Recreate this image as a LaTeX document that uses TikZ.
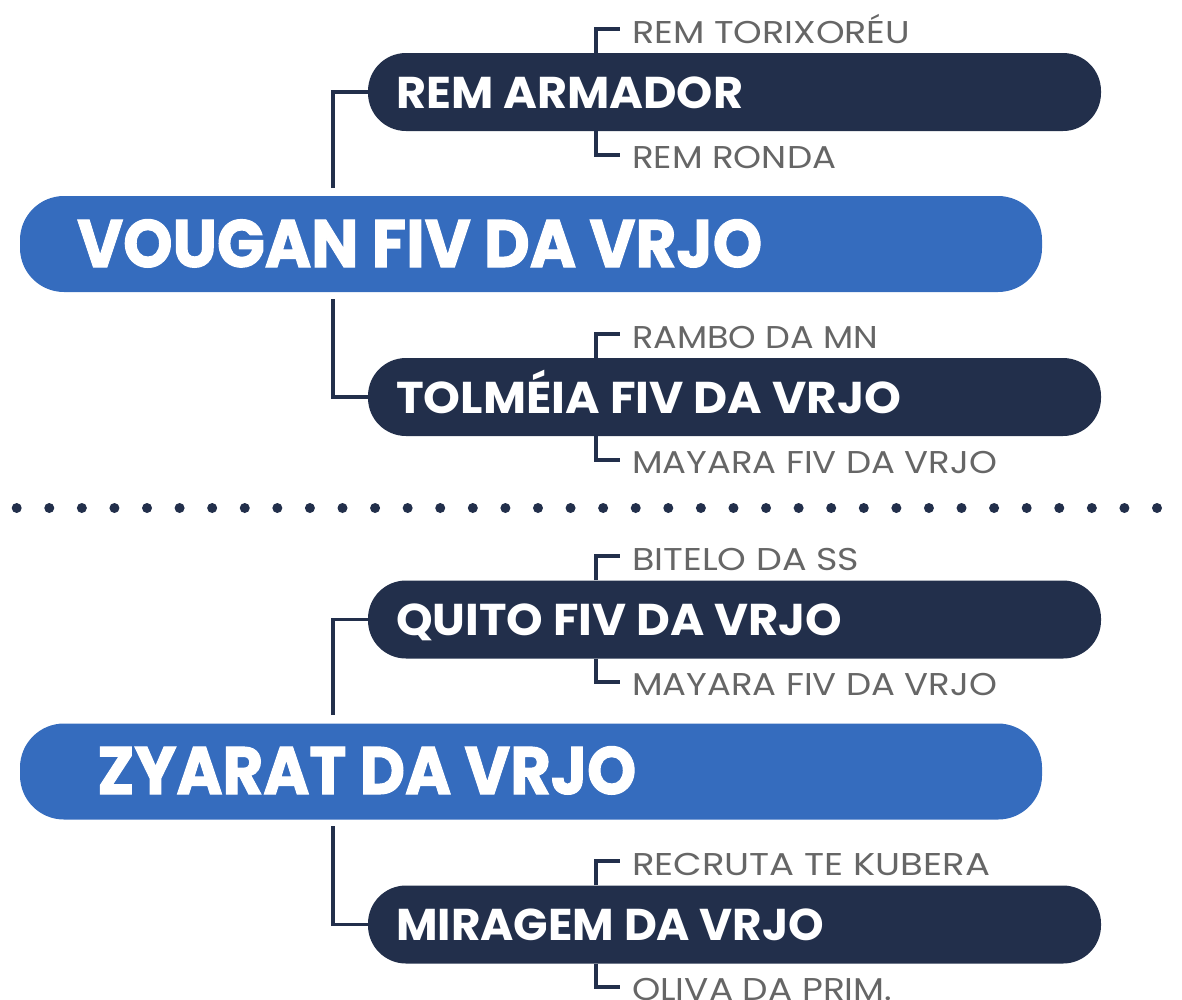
\documentclass[tikz,border=0pt]{standalone}
\usepackage{fontspec}
\setmainfont{Poppins}
\newfontfamily\heavyfont[BoldFeatures={FakeBold=1.6}]{Poppins}
\usepackage{graphicx}
\usetikzlibrary{calc}
\definecolor{navy}{RGB}{34,47,75}
\definecolor{mainblue}{RGB}{53,108,190}
\definecolor{txtgray}{RGB}{102,102,102}
\newcommand{\fitw}[2]{\resizebox{#1pt}{\height}{#2}}
\begin{document}
\begin{tikzpicture}[x=1pt,y=-1pt,
  darkbox/.style={fill=navy, rounded corners=38pt, minimum width=733pt, minimum height=78pt, inner sep=0pt},
  bluebox/.style={fill=mainblue, rounded corners=44pt, minimum width=1022pt, minimum height=96pt, inner sep=0pt},
  bluetxt/.style={text=white, font=\fontsize{67}{67}\selectfont\heavyfont\bfseries, anchor=base west, inner sep=0pt},
  darktxt/.style={text=white, font=\fontsize{44.5}{44.5}\selectfont\bfseries, anchor=base west, inner sep=0pt},
  subtxt/.style={text=txtgray, font=\fontsize{31.5}{31.5}\selectfont, anchor=base west, inner sep=0pt},
  conn/.style={draw=navy, line width=3.3pt}]
\useasboundingbox (0,0) rectangle (1182,999);
% ---------- group 1
\node[bluebox] (b1) at (531,244) {};
\node[bluetxt] (b1t) at (77,267) {\fitw{685}{VOUGAN FIV DA VRJO}};
\node[darkbox] (d1) at (734.5,92) {};
\node[darktxt] (d1t) at (396,108) {\fitw{347}{REM ARMADOR}};
\node[darkbox] (d2) at (734.5,397) {};
\node[darktxt] (d2t) at (396,413) {\fitw{505}{TOLMÉIA FIV DA VRJO}};
\node[subtxt] (s1) at (632,43) {\fitw{278}{REM TORIXORÉU}};
\node[subtxt] (s2) at (632,168) {\fitw{204}{REM RONDA}};
\node[subtxt] (s3) at (632,348) {\fitw{246}{RAMBO DA MN}};
\node[subtxt] (s4) at (632,473) {\fitw{365}{MAYARA FIV DA VRJO}};
\coordinate (j1) at (333,188);
\coordinate (j2) at (333,299);
\draw[conn] (j1) |- (d1.west);
\draw[conn] (j2) |- (d2.west);
\draw[conn] (d1.north -| 596,0) |- ($(s1.base west)+(-12,-14)$);
\draw[conn] (d1.south -| 596,0) |- ($(s2.base west)+(-12,-13)$);
\draw[conn] (d2.north -| 596,0) |- ($(s3.base west)+(-12,-14)$);
\draw[conn] (d2.south -| 596,0) |- ($(s4.base west)+(-12,-13)$);
% ---------- separator
\foreach \k in {0,...,36} \fill[navy] ({16.7+32.58*\k},508) circle (5pt);
% ---------- group 2
\node[bluebox] (b2) at (531,771.5) {};
\node[bluetxt] (b2t) at (97,794) {\fitw{539}{ZYARAT DA VRJO}};
\node[darkbox] (d3) at (734.5,619.5) {};
\node[darktxt] (d3t) at (396,635.5) {\fitw{446}{QUITO FIV DA VRJO}};
\node[darkbox] (d4) at (734.5,924.5) {};
\node[darktxt] (d4t) at (396,940.5) {\fitw{428}{MIRAGEM DA VRJO}};
\node[subtxt] (s5) at (632,570) {\fitw{227}{BITELO DA SS}};
\node[subtxt] (s6) at (632,695) {\fitw{365}{MAYARA FIV DA VRJO}};
\node[subtxt] (s7) at (632,875) {\fitw{358}{RECRUTA TE KUBERA}};
\node[subtxt] (s8) at (632,1000) {\fitw{260}{OLIVA DA PRIM.}};
\coordinate (j3) at (333,715);
\coordinate (j4) at (333,826);
\draw[conn] (j3) |- (d3.west);
\draw[conn] (j4) |- (d4.west);
\draw[conn] (d3.north -| 596,0) |- ($(s5.base west)+(-12,-14)$);
\draw[conn] (d3.south -| 596,0) |- ($(s6.base west)+(-12,-13)$);
\draw[conn] (d4.north -| 596,0) |- ($(s7.base west)+(-12,-14)$);
\draw[conn] (d4.south -| 596,0) |- ($(s8.base west)+(-12,-13)$);
\end{tikzpicture}
\end{document}
